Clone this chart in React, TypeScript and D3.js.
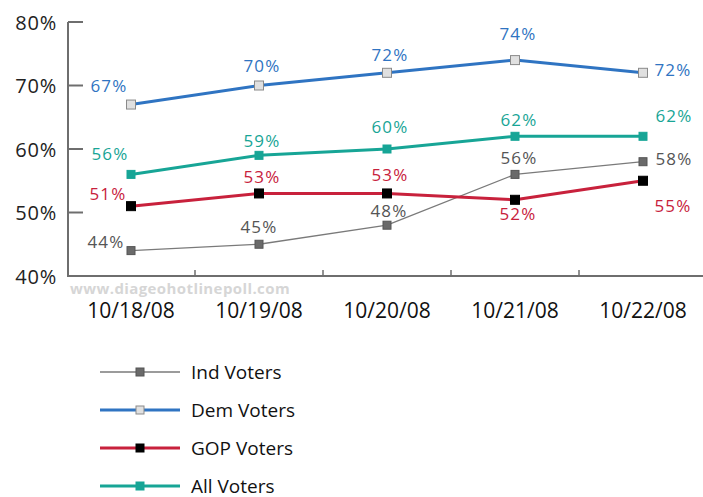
import React from "react";
import * as d3 from "d3";

const dates = ["10/18/08", "10/19/08", "10/20/08", "10/21/08", "10/22/08"];
const yTicks = [40, 50, 60, 70, 80];

const indValues = [44, 45, 48, 56, 58];
const demValues = [67, 70, 72, 74, 72];
const gopValues = [51, 53, 53, 52, 55];
const allValues = [56, 59, 60, 62, 62];

const seriesNames = ["Ind Voters", "Dem Voters", "GOP Voters", "All Voters"];

// label offsets relative to each point (style/placement only)
const indLabelOff = [[-25, -3], [0, -11], [2, -8], [4, -10], [31, 3]];
const demLabelOff = [[-22, -12.5], [3, -13.5], [3, -12], [3, -20], [30, 3]];
const gopLabelOff = [[-23, -6], [3, -10.5], [3, -12.5], [3, 20], [30, 31]];
const allLabelOff = [[-21, -14], [3, -8], [3, -16], [4, -10], [31, -14]];

const FONT = "'Open Sans', 'Noto Sans', sans-serif";

type S = {
  name: string;
  values: number[];
  color: string;
  textColor: string;
  width: number;
  mFill: string;
  mStroke: string;
  mSize: number;
  off: number[][];
};

const series: S[] = [
  { name: seriesNames[0], values: indValues, color: "#7a7a7a", textColor: "#555", width: 1.3, mFill: "#6a6a6a", mStroke: "#555", mSize: 8, off: indLabelOff },
  { name: seriesNames[1], values: demValues, color: "#2f74c2", textColor: "#2f74c2", width: 3, mFill: "#e0e0e0", mStroke: "#8a8a8a", mSize: 9, off: demLabelOff },
  { name: seriesNames[2], values: gopValues, color: "#c8213c", textColor: "#c8213c", width: 3, mFill: "#000", mStroke: "#000", mSize: 9, off: gopLabelOff },
  { name: seriesNames[3], values: allValues, color: "#17a596", textColor: "#17a596", width: 3, mFill: "#17a596", mStroke: "#17a596", mSize: 8, off: allLabelOff },
];

// draw order: Ind first, then GOP, All, Dem
const drawOrder = [0, 2, 3, 1];

export default function App() {
  const W = 703, H = 497;
  const x = d3.scaleBand<string>().domain(dates).range([67, 707]).paddingInner(0).paddingOuter(0);
  const y = d3.scaleLinear().domain([40, 80]).range([276, 22]);
  const cx = (d: string) => (x(d) as number) + x.bandwidth() / 2;
  const line = d3.line<number>().x((_, i) => cx(dates[i])).y((v) => y(v));
  const axisColor = "#6e6e6e";
  const boundaries = dates.slice(1).map((d) => x(d) as number);

  return (
    <svg width={W} height={H} style={{ position: "absolute", left: 0, top: 0, background: "#fff" }}>
      {/* watermark */}
      <text x={70} y={294} fontFamily={FONT} fontWeight={700} fontSize={15} fill="#d6d6d6" letterSpacing={0.4}>
        www.diageohotlinepoll.com
      </text>
      {/* axes */}
      <line x1={68} x2={68} y1={y(80)} y2={277} stroke={axisColor} strokeWidth={2} />
      <line x1={67} x2={W} y1={276} y2={276} stroke={axisColor} strokeWidth={2} />
      {yTicks.filter((t) => t !== 40).map((t) => (
        <line key={t} x1={68} x2={83} y1={y(t)} y2={y(t)} stroke={axisColor} strokeWidth={2} />
      ))}
      {boundaries.map((b, i) => (
        <line key={i} x1={b} x2={b} y1={276} y2={270} stroke={axisColor} strokeWidth={1.5} />
      ))}
      {yTicks.map((t) => (
        <text key={t} x={57} y={y(t) + 7.5} textAnchor="end" fontFamily={FONT} fontSize={20} fill="#222" letterSpacing={0.8}>
          {t}%
        </text>
      ))}
      {dates.map((d) => (
        <text key={d} x={cx(d)} y={318} textAnchor="middle" fontFamily={FONT} fontSize={21} fill="#111">
          {d}
        </text>
      ))}
      {/* lines */}
      {drawOrder.map((si) => {
        const s = series[si];
        return (
          <g key={s.name}>
            <path d={line(s.values) || ""} fill="none" stroke={s.color} strokeWidth={s.width} strokeLinejoin="round" />
            {s.values.map((v, i) => (
              <rect
                key={i}
                x={cx(dates[i]) - s.mSize / 2}
                y={y(v) - s.mSize / 2}
                width={s.mSize}
                height={s.mSize}
                fill={s.mFill}
                stroke={s.mStroke}
                strokeWidth={1}
              />
            ))}
          </g>
        );
      })}
      {/* labels */}
      {series.map((s) =>
        s.values.map((v, i) => (
          <text
            key={s.name + i}
            x={cx(dates[i]) + s.off[i][0]}
            y={y(v) + s.off[i][1]}
            textAnchor="middle"
            fontFamily={FONT}
            fontSize={17}
            fill={s.textColor}
            letterSpacing={1.2}
          >
            {v}%
          </text>
        ))
      )}
      {/* legend */}
      {series.map((s, i) => {
        const ly = 372 + i * 38;
        return (
          <g key={s.name}>
            <line x1={100} x2={180} y1={ly} y2={ly} stroke={s.color} strokeWidth={s.width === 3 ? 3 : 1.5} />
            <rect x={140 - 4} y={ly - 4} width={8} height={8} fill={s.mFill} stroke={s.mStroke} strokeWidth={1} />
            <text x={191} y={ly + 6.5} fontFamily={FONT} fontSize={19} fill="#111">
              {s.name}
            </text>
          </g>
        );
      })}
    </svg>
  );
}
